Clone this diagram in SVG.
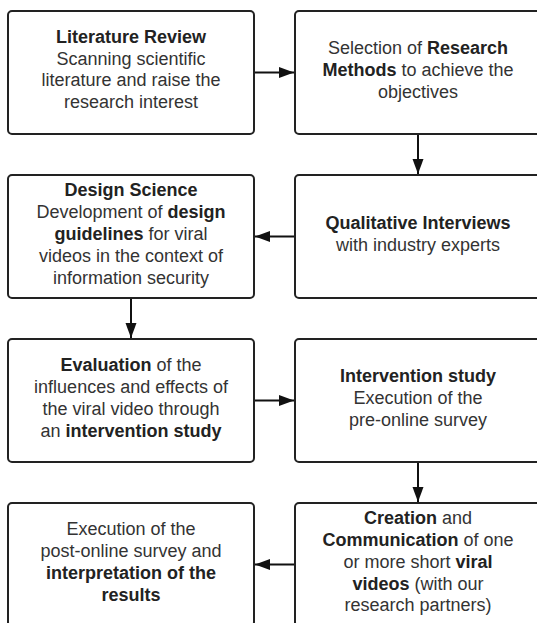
<svg xmlns="http://www.w3.org/2000/svg" width="537" height="623" viewBox="0 0 537 623">
<style>
.box{fill:#fff;stroke:#222;stroke-width:2}
text{font-family:"Liberation Sans",Arial,sans-serif;font-size:18px;fill:#333;text-anchor:middle}
.b{font-weight:bold;fill:#222}
.con{fill:none;stroke:#111;stroke-width:2}
</style>
<defs>
<marker id="ah" markerUnits="userSpaceOnUse" markerWidth="16" markerHeight="12" refX="15" refY="5.5" orient="auto">
<path d="M0,0 L15,5.5 L0,11 z" fill="#111"/>
</marker>
</defs>
<rect width="537" height="623" fill="#fff"/>
<g id="connectors">
<path class="con" d="M254,72.5 H294" marker-end="url(#ah)"/>
<path class="con" d="M418,134 V174" marker-end="url(#ah)"/>
<path class="con" d="M295,236.5 H255" marker-end="url(#ah)"/>
<path class="con" d="M131,298 V338" marker-end="url(#ah)"/>
<path class="con" d="M254,400.5 H294" marker-end="url(#ah)"/>
<path class="con" d="M418,462 V502" marker-end="url(#ah)"/>
<path class="con" d="M295,564.5 H255" marker-end="url(#ah)"/>
</g>
<g id="n1">
<rect class="box" x="8" y="11" width="246" height="123" rx="4"/>
<text x="131" y="43"><tspan class="b">Literature Review</tspan></text>
<text x="131" y="64.5">Scanning scientific</text>
<text x="131" y="86">literature and raise the</text>
<text x="131" y="108">research interest</text>
</g>
<g id="n2">
<rect class="box" x="295" y="11" width="246" height="123" rx="4"/>
<text x="418" y="54">Selection of <tspan class="b">Research</tspan></text>
<text x="418" y="76"><tspan class="b">Methods</tspan> to achieve the</text>
<text x="418" y="98">objectives</text>
</g>
<g id="n3">
<rect class="box" x="8" y="175" width="246" height="123" rx="4"/>
<text x="131" y="196"><tspan class="b">Design Science</tspan></text>
<text x="131" y="218">Development of <tspan class="b">design</tspan></text>
<text x="131" y="240"><tspan class="b">guidelines</tspan> for viral</text>
<text x="131" y="262">videos in the context of</text>
<text x="131" y="284">information security</text>
</g>
<g id="n4">
<rect class="box" x="295" y="175" width="246" height="123" rx="4"/>
<text x="418" y="229"><tspan class="b">Qualitative Interviews</tspan></text>
<text x="418" y="251">with industry experts</text>
</g>
<g id="n5">
<rect class="box" x="8" y="339" width="246" height="123" rx="4"/>
<text x="131" y="371"><tspan class="b">Evaluation</tspan> of the</text>
<text x="131" y="392.5">influences and effects of</text>
<text x="131" y="414.5">the viral video through</text>
<text x="131" y="436.5">an <tspan class="b">intervention study</tspan></text>
</g>
<g id="n6">
<rect class="box" x="295" y="339" width="246" height="123" rx="4"/>
<text x="418" y="382"><tspan class="b">Intervention study</tspan></text>
<text x="418" y="404">Execution of the</text>
<text x="418" y="426">pre-online survey</text>
</g>
<g id="n7">
<rect class="box" x="8" y="503" width="246" height="123" rx="4"/>
<text x="131" y="535">Execution of the</text>
<text x="131" y="557">post-online survey and</text>
<text x="131" y="579"><tspan class="b">interpretation of the</tspan></text>
<text x="131" y="601"><tspan class="b">results</tspan></text>
</g>
<g id="n8">
<rect class="box" x="295" y="503" width="246" height="123" rx="4"/>
<text x="418" y="523.5"><tspan class="b">Creation</tspan> and</text>
<text x="418" y="545.5"><tspan class="b">Communication</tspan> of one</text>
<text x="418" y="567.5">or more short <tspan class="b">viral</tspan></text>
<text x="418" y="589.5"><tspan class="b">videos</tspan> (with our</text>
<text x="418" y="611">research partners)</text>
</g>
</svg>
